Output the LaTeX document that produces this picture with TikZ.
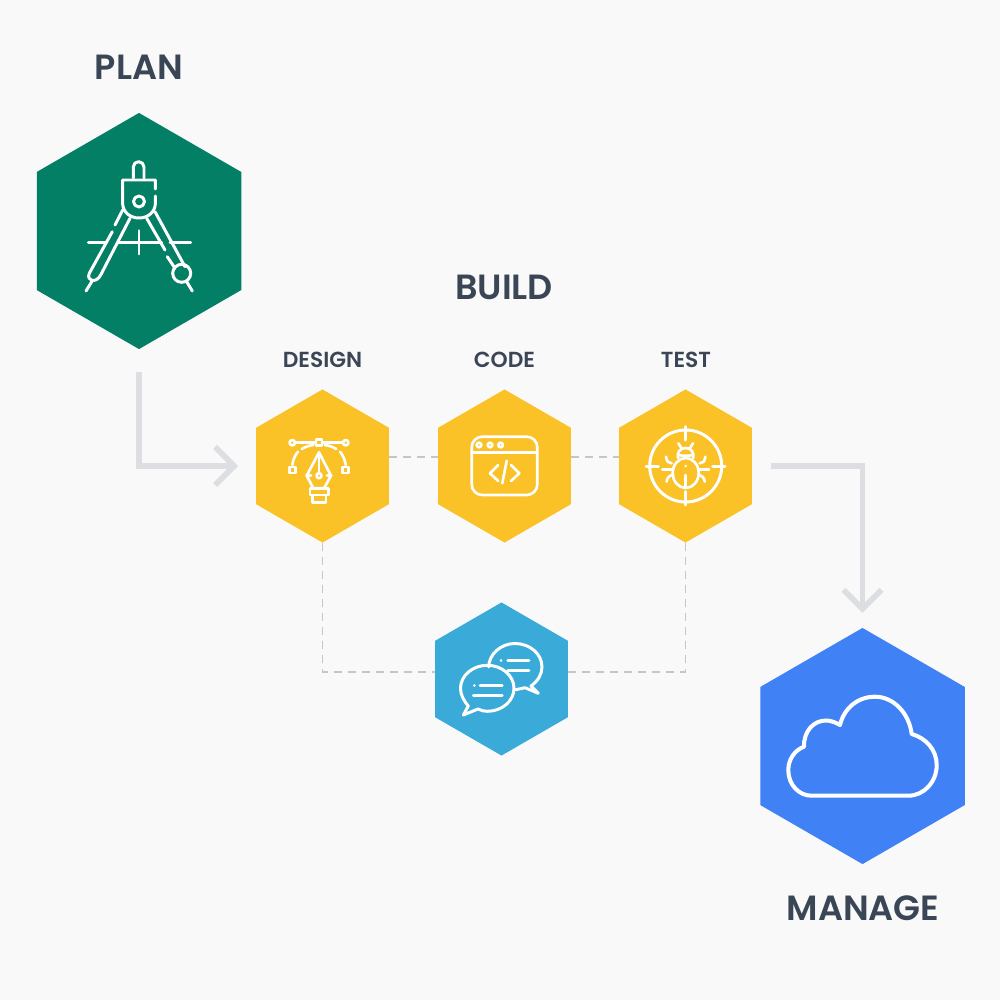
\documentclass[tikz,border=0pt]{standalone}
\usepackage{fontspec}
\setmainfont{Poppins}[BoldFont={Poppins SemiBold}]
\usetikzlibrary{shapes.geometric,arrows.meta}
\definecolor{pagebg}{HTML}{F9F9FA}
\definecolor{plangreen}{HTML}{027F65}
\definecolor{buildyellow}{HTML}{FAC227}
\definecolor{chatblue}{HTML}{3AABD9}
\definecolor{manageblue}{HTML}{4081F5}
\definecolor{titlegrey}{HTML}{3A4556}
\definecolor{flowgrey}{HTML}{DCDEE2}
\definecolor{linkgrey}{HTML}{C6C6C6}
\tikzset{
  hexbig/.style={regular polygon,regular polygon sides=6,regular polygon rotate=30,minimum size=2.36cm,inner sep=0pt,outer sep=0pt},
  hexsmall/.style={hexbig,minimum size=1.53cm},
  bigtitle/.style={text=titlegrey,font=\fontsize{9.95}{12}\selectfont\bfseries},
  smalltitle/.style={text=titlegrey,font=\fontsize{6.2}{7}\selectfont\bfseries},
  flowline/.style={flowgrey,line width=1.6pt,-{Straight Barb[length=0.19cm,width=0.38cm]}},
  linkline/.style={linkgrey,line width=0.55pt,dash pattern=on 2.3pt off 1.7pt},
  iconline/.style={white,line width=0.85pt,line cap=round,line join=round},
  thinicon/.style={iconline,line width=0.75pt},
}
\begin{document}
\begin{tikzpicture}[x=0.01cm,y=-0.01cm]
\useasboundingbox (0,0) rectangle (1000,1000);
\fill[pagebg] (0,0) rectangle (1000,1000);

% hexagons
\node[hexbig,fill=plangreen] (plan) at (139,231) {};
\node[hexsmall,fill=buildyellow] (design) at (322.5,466) {};
\node[hexsmall,fill=buildyellow] (code) at (504.5,466) {};
\node[hexsmall,fill=buildyellow] (test) at (685.5,466) {};
\node[hexsmall,fill=chatblue] (chat) at (501.5,679) {};
\node[hexbig,fill=manageblue] (manage) at (862.5,746) {};

% titles
\node[bigtitle] (plantitle) at (139,67) {PLAN};
\node[bigtitle] (buildtitle) at (504,287) {BUILD};
\node[bigtitle] (managetitle) at (863,908) {MANAGE};
\node[smalltitle] (designtitle) at (322.5,360) {DESIGN};
\node[smalltitle] (codetitle) at (504.5,360) {CODE};
\node[smalltitle] (testtitle) at (686,360) {TEST};

% connectors
\draw[flowline,shorten <=0.23cm,shorten >=0.18cm] (plan.south) |- (design);
\draw[flowline,shorten <=0.19cm,shorten >=0.15cm] (test) -| (manage.north);
\draw[linkline] ([yshift=0.09cm]design.east) -- ([yshift=0.09cm]code.west);
\draw[linkline] ([yshift=0.09cm]code.east) -- ([yshift=0.09cm]test.west);
\draw[linkline] (design.south) |- ([yshift=0.07cm]chat.west);
\draw[linkline] (test.south) |- ([yshift=0.07cm]chat.east);

% compass
\draw[iconline] (133.3,178) -- (133.3,167) arc (180:360:5.35) -- (144,178);
\draw[iconline] (155.3,189) -- (155.3,180) -- (122.7,180) -- (122.7,204) .. controls (123,212) and (130,218) .. (139,218) .. controls (148,218) and (155,212) .. (155.3,204) -- (155.3,196);
\draw[iconline] (139,201.5) circle (5.5);
\draw[iconline] (122.7,210) -- (115,225) (112.3,231.7) -- (89.3,273.3) .. controls (86,281) and (96,284) .. (100.7,275) -- (130,218.3);
\draw[iconline] (91.7,281.7) -- (86,291);
\draw[iconline] (146.7,218.3) -- (165,250) (167.3,256.7) -- (175,268.3) (155,211.7) -- (185,266.7);
\draw[iconline] (181.7,273.3) circle (9);
\draw[iconline] (186.7,281.7) -- (192.3,291);
\draw[iconline] (88.3,242.3) -- (106.7,242.3) (118.3,242.3) -- (161.7,242.3) (170,242.3) -- (190.7,242.3);
\draw[iconline] (139,230.7) -- (139,254);

% pen
\draw[thinicon] (295,442.7) -- (316,442.7) (322,442.7) -- (343,442.7);
\draw[thinicon] (292.3,442.7) circle (2.7) (345.7,442.7) circle (2.7);
\draw[thinicon] (316,439.7) rectangle (322,445.7);
\draw[thinicon] (289.3,467) rectangle (295.3,473) (342.7,467) rectangle (348.7,473);
\foreach \sx in {1,-1} {
  \begin{scope}[shift={(319,0)},xscale=\sx]
  \draw[thinicon] (-26.7,465) .. controls (-26,460) and (-24,455) .. (-21,451.7);
  \draw[thinicon] (-17.3,449) .. controls (-14,447) and (-10,445.5) .. (-5.7,445);
  \draw[thinicon] (-12.3,475.7) -- (-8,475.7);
  \end{scope}
}
\draw[thinicon] (319,452.3) -- (331,475.7) -- (324,488.3) -- (313.3,488.3) -- (306.7,475.7) -- cycle;
\draw[thinicon] (319,452.3) -- (319,472.7);
\draw[thinicon] (319,475.7) circle (2.5);
\draw[thinicon] (310,488.3) rectangle (328.3,495) (312.3,495) rectangle (326,502.3);

% window
\draw[thinicon,rounded corners=3pt] (471.7,436.7) rectangle (537.3,495);
\draw[thinicon] (471.7,452.7) -- (537.3,452.7);
\foreach \cx in {479,490,500.7} {
  \draw[thinicon] (\cx,445) circle (2.3);
}
\draw[thinicon] (498.3,465) -- (490,473.3) -- (498.3,481);
\draw[thinicon] (511,465) -- (519.3,473.3) -- (511,481);
\draw[thinicon] (506.7,460.7) -- (502.3,483.3);

% bug
\draw[iconline] (685.7,466) circle (36);
\draw[iconline] (685.7,426.7) -- (685.7,440) (685.7,491.7) -- (685.7,505) (646,466) -- (658.3,466) (712.7,466) -- (725,466);
\draw[thinicon] (685.7,473) ellipse (13 and 15);
\draw[thinicon] (685.7,475) -- (685.7,488);
\fill[white] (685.7,466) circle (1.3);
\draw[thinicon] (678,458) .. controls (677,452) and (680,448) .. (685.7,448) .. controls (691,448) and (694,452) .. (693.4,458);
\draw[thinicon] (678.7,455) .. controls (682,456) and (689,456) .. (692.7,455);
\foreach \sx in {1,-1} {
  \begin{scope}[shift={(685.7,466)},xscale=\sx]
  \draw[thinicon] (-4,-17.7) -- (-7.4,-22.7);
  \draw[thinicon] (-19.7,-9.3) .. controls (-19,-4) and (-17,-3) .. (-14,-2.7);
  \draw[thinicon] (-23.4,3.3) -- (-12.4,3.3);
  \draw[thinicon] (-19,15.7) .. controls (-19,12) and (-16,9) .. (-12.4,9);
  \end{scope}
}

% speech bubbles
\draw[iconline] (488.6,667) .. controls (489,654) and (501,643.5) .. (515,643.5) .. controls (530,643.5) and (542,654) .. (542,667) .. controls (542,674) and (538,681) .. (531,686) -- (538.3,693.3) -- (525,687.7) -- (515.7,689.7);
\draw[iconline] (478,709) .. controls (481,710.5) and (484,711.3) .. (487.3,711.3) .. controls (502,711.3) and (514,701) .. (514,688.3) .. controls (514,675.6) and (502,665.3) .. (487.3,665.3) .. controls (472.6,665.3) and (460.5,675.6) .. (460.5,688.3) .. controls (460.5,695) and (464,701) .. (468.3,706) -- (463.3,715) -- cycle;
\draw[thinicon] (474.3,685.7) -- (474.4,685.7) (480,685.7) -- (502.3,685.7) (473.3,695.7) -- (502.3,695.7);
\draw[thinicon] (501,660.7) -- (501.1,660.7) (507.7,660.7) -- (529,660.7) (507.7,670.3) -- (529,670.3);

% cloud
\draw[iconline,line width=1.15pt] (811.7,795.7) -- (908.3,795.7) .. controls (924,795.7) and (936.7,782) .. (936.7,765) .. controls (936.7,750) and (926,738) .. (911.7,734) .. controls (909,713) and (893.5,696.7) .. (875,696.7) .. controls (858,696.7) and (844,708) .. (840,725) .. controls (835,722) and (830,720.5) .. (826,720.5) .. controls (813,720.5) and (803.5,732) .. (804,746.7) .. controls (795,750) and (788.3,759) .. (788.3,770) .. controls (788.3,785) and (799,795.7) .. (811.7,795.7) -- cycle;

\end{tikzpicture}
\end{document}
